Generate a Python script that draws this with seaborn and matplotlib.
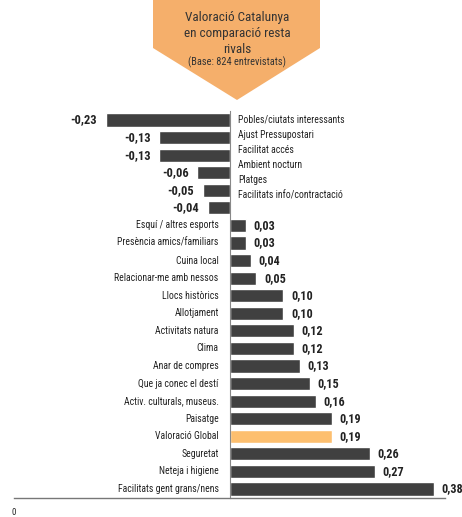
import numpy as np
import pandas as pd
import matplotlib
matplotlib.use("Agg")
import matplotlib.pyplot as plt
from matplotlib.patches import Polygon
import seaborn as sns

# data
categories = [
    "Pobles/ciutats interessants", "Ajust Pressupostari", "Facilitat accés",
    "Ambient nocturn", "Platges", "Facilitats info/contractació",
    "Esquí / altres esports", "Presència amics/familiars", "Cuina local",
    "Relacionar-me amb nessos", "Llocs històrics", "Allotjament",
    "Activitats natura", "Clima", "Anar de compres", "Que ja conec el destí",
    "Activ. culturals, museus.", "Paisatge", "Valoració Global", "Seguretat",
    "Neteja i higiene", "Facilitats gent grans/nens",
]
values = [-0.23, -0.13, -0.13, -0.06, -0.05, -0.04,
          0.03, 0.03, 0.04, 0.05, 0.10, 0.10, 0.12, 0.12, 0.13, 0.15,
          0.16, 0.19, 0.19, 0.26, 0.27, 0.38]
highlight = "Valoració Global"
title_lines = ["Valoració Catalunya", "en comparació resta", "rivals"]
subtitle = "(Base: 824 entrevistats)"

sns.set_style("white")
plt.rcParams['font.family'] = ['Liberation Sans Narrow', 'Arial Narrow', 'Roboto Condensed',
                               'PT Sans Narrow', 'Archivo Narrow', 'Liberation Sans', 'DejaVu Sans']

DARK = "#404040"
ORANGE = "#FDBF6F"
BOX = "#F5AF6B"
TXT = "#222222"

df = pd.DataFrame({"cat": categories, "val": values})
colors = [ORANGE if c == highlight else DARK for c in categories]

W, H = 462, 517
fig = plt.figure(figsize=(W / 100, H / 100), dpi=100)
ax = fig.add_axes([14 / W, 1 - 497.8 / H, 431 / W, 386.6 / H])

sns.barplot(data=df, x="val", y="cat", hue="cat", palette=colors, legend=False,
            orient="h", width=0.75, saturation=1, ax=ax)

ax.set_xlim(-0.4, 0.4)
ax.set_ylim(len(categories) - 0.5, -0.5)
ax.set_xlabel("")
ax.set_ylabel("")

# category axis sits at zero
for s in ["top", "right"]:
    ax.spines[s].set_visible(False)
ax.spines["left"].set_position(("data", 0))
ax.spines["left"].set_color("#888888")
ax.spines["left"].set_linewidth(0.8)
ax.spines["bottom"].set_color("#777777")
ax.spines["bottom"].set_linewidth(1.0)
ax.set_yticks(np.arange(-0.5, len(categories), 1.0))
ax.set_yticklabels([])
ax.tick_params(axis="y", length=3, width=0.8, color="#888888", direction="out")
ax.set_xticks([-0.4])
ax.set_xticklabels(["0"])
ax.tick_params(axis="x", length=4, width=1, color="#777777", labelsize=6.5, pad=3)

# labels
neg_i = 0
for i, (c, v) in enumerate(zip(categories, values)):
    lbl = f"{v:.2f}".replace(".", ",")
    if v < 0:
        ax.text(0.016, neg_i * 0.86, c, ha="left", va="center", fontsize=7, color=TXT)
        neg_i += 1
        ax.text(v - 0.016, i, lbl, ha="right", va="center",
                fontsize=9, fontweight="bold", color=TXT)
    else:
        ax.text(-0.02, i, c, ha="right", va="center", fontsize=7, color=TXT)
        ax.text(v + 0.014, i, lbl, ha="left", va="center",
                fontsize=8.7, fontweight="bold", color=TXT)

# title arrow box
pts = [(153, 0), (320, 0), (320, 48), (237, 100), (153, 48)]
fig.patches.append(Polygon([(x / W, 1 - y / H) for x, y in pts], closed=True,
                           transform=fig.transFigure, facecolor=BOX, edgecolor="none"))
for k, line in enumerate(title_lines):
    fig.text(237 / W, 1 - (17.5 + 16 * k) / H, line, ha="center", va="center",
             fontsize=9.5, color="#333333")
fig.text(237 / W, 1 - 62 / H, subtitle, ha="center", va="center", fontsize=7.5, color="#333333")

fig.savefig("out.png", dpi=100)
